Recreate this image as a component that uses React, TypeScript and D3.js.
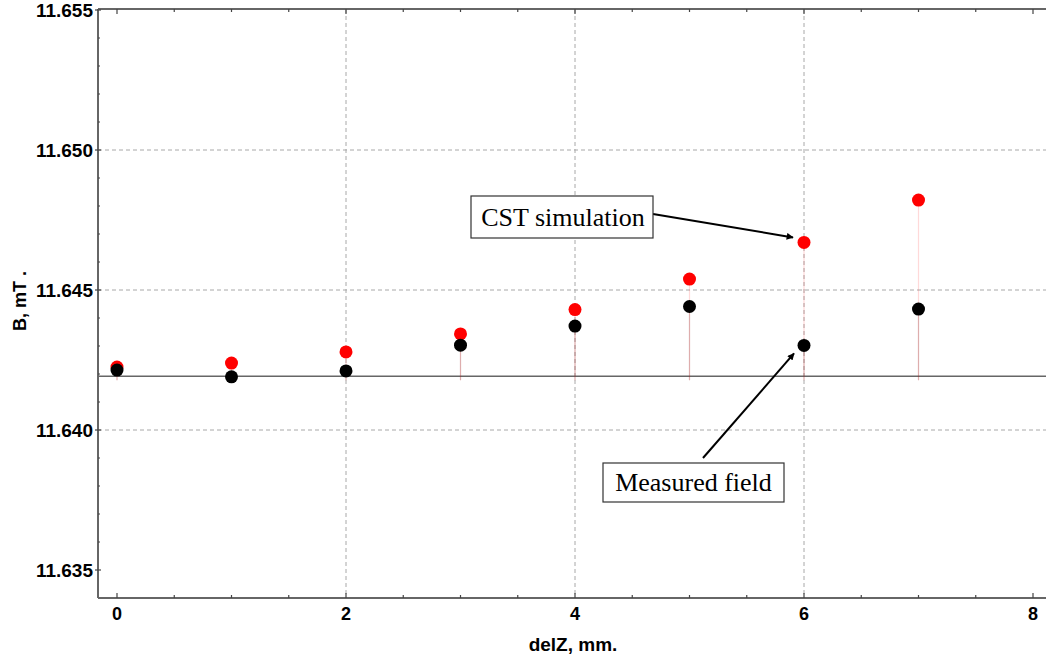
import React, { useEffect, useRef } from 'react';
import * as d3 from 'd3';

const delZ = [0, 1, 2, 3, 4, 5, 6, 7];
const cstValues = [11.64225, 11.64239, 11.64279, 11.64343, 11.64430, 11.64539, 11.64670, 11.64821];
const measuredValues = [11.64214, 11.64190, 11.64211, 11.64303, 11.64371, 11.64441, 11.64302, 11.64432];
const baseline = 11.64192;
const xTicks = [0, 2, 4, 6, 8];
const yTicks = [11.635, 11.640, 11.645, 11.650, 11.655];

const W = 1046;
const H = 659;

const App: React.FC = () => {
  const svgRef = useRef<SVGSVGElement>(null);

  useEffect(() => {
    if (!svgRef.current) return;
    const svg = d3.select(svgRef.current);
    svg.selectAll('*').remove();

    const left = 98, right = 1046, top = 9, bottom = 598;

    const x = d3.scaleLinear().domain([0, 8]).range([117, 1033]);
    const y = d3.scaleLinear().domain([11.635, 11.655]).range([570, 10]);

    const defs = svg.append('defs');
    defs.append('marker')
      .attr('id', 'arrow')
      .attr('viewBox', '0 0 10 10')
      .attr('refX', 9)
      .attr('refY', 5)
      .attr('markerWidth', 8)
      .attr('markerHeight', 7)
      .attr('markerUnits', 'userSpaceOnUse')
      .attr('orient', 'auto')
      .append('path')
      .attr('d', 'M0,0 L10,5 L0,10 z')
      .attr('fill', '#000');

    defs.append('clipPath').attr('id', 'plot')
      .append('rect')
      .attr('x', left).attr('y', top)
      .attr('width', right - left).attr('height', bottom - top);

    // grid
    const grid = svg.append('g').attr('stroke', '#a8a8a8').attr('stroke-dasharray', '4,3').attr('stroke-width', 1);
    grid.selectAll('line.v')
      .data(xTicks.filter(d => d > 0 && d < 8))
      .enter().append('line')
      .attr('x1', d => x(d)).attr('x2', d => x(d))
      .attr('y1', top).attr('y2', bottom);
    grid.selectAll('line.h')
      .data(yTicks.filter(d => d > 11.635 && d < 11.655))
      .enter().append('line')
      .attr('x1', left).attr('x2', right)
      .attr('y1', d => y(d)).attr('y2', d => y(d));

    const plot = svg.append('g').attr('clip-path', 'url(#plot)');

    // baseline
    plot.append('line')
      .attr('x1', left).attr('x2', right)
      .attr('y1', y(baseline)).attr('y2', y(baseline))
      .attr('stroke', '#666').attr('stroke-width', 1.5);

    // stems
    plot.selectAll('line.cst')
      .data(delZ)
      .enter().append('line')
      .attr('x1', d => x(d)).attr('x2', d => x(d))
      .attr('y1', y(baseline) + 4).attr('y2', (d, i) => y(cstValues[i]))
      .attr('stroke', 'rgba(255,80,80,0.22)').attr('stroke-width', 1.2);
    plot.selectAll('line.meas')
      .data(delZ)
      .enter().append('line')
      .attr('x1', d => x(d)).attr('x2', d => x(d))
      .attr('y1', y(baseline) + 4).attr('y2', (d, i) => y(measuredValues[i]))
      .attr('stroke', 'rgba(90,0,0,0.2)').attr('stroke-width', 1.2);

    // points
    plot.selectAll('circle.cst')
      .data(delZ)
      .enter().append('circle')
      .attr('cx', d => x(d))
      .attr('cy', (d, i) => y(cstValues[i]))
      .attr('r', 6.5)
      .attr('fill', '#ff0000');
    plot.selectAll('circle.meas')
      .data(delZ)
      .enter().append('circle')
      .attr('cx', d => x(d))
      .attr('cy', (d, i) => y(measuredValues[i]))
      .attr('r', 6.5)
      .attr('fill', '#000');

    // frame
    const frame = svg.append('g').attr('stroke', '#666').attr('stroke-width', 2);
    frame.append('line').attr('x1', left).attr('x2', left).attr('y1', top).attr('y2', bottom);
    frame.append('line').attr('x1', left).attr('x2', right).attr('y1', bottom).attr('y2', bottom);
    frame.append('line').attr('x1', left).attr('x2', right).attr('y1', top).attr('y2', top);

    // ticks
    const ticks = svg.append('g').attr('stroke', '#444').attr('stroke-width', 1.2);
    const xMinor = d3.range(0, 8.01, 0.5);
    ticks.selectAll('line.xb')
      .data(xMinor)
      .enter().append('line')
      .attr('x1', d => x(d)).attr('x2', d => x(d))
      .attr('y1', bottom).attr('y2', d => bottom - (d % 2 === 0 ? 5 : 3));
    ticks.selectAll('line.xt')
      .data(xMinor)
      .enter().append('line')
      .attr('x1', d => x(d)).attr('x2', d => x(d))
      .attr('y1', top).attr('y2', d => top + (d % 2 === 0 ? 5 : 3));
    const yMinor = d3.range(0, 21).map(i => 11.635 + i * 0.001);
    ticks.selectAll('line.yl')
      .data(yMinor)
      .enter().append('line')
      .attr('x1', (d, i) => left - (i % 5 === 0 ? 3 : 0)).attr('x2', (d, i) => left + (i % 5 === 0 ? 3 : 2))
      .attr('y1', d => y(d)).attr('y2', d => y(d));

    const font = '"Liberation Sans", Arial, sans-serif';

    svg.append('g').selectAll('text')
      .data(xTicks)
      .enter().append('text')
      .attr('x', d => x(d))
      .attr('y', 620)
      .attr('text-anchor', 'middle')
      .attr('font-family', font).attr('font-weight', 'bold').attr('font-size', 18)
      .text(d => String(d));

    svg.append('g').selectAll('text')
      .data(yTicks)
      .enter().append('text')
      .attr('x', 93)
      .attr('y', d => y(d) + 7)
      .attr('text-anchor', 'end')
      .attr('font-family', font).attr('font-weight', 'bold').attr('font-size', 19)
      .text(d => d.toFixed(3));

    svg.append('text')
      .attr('x', 573).attr('y', 651)
      .attr('text-anchor', 'middle')
      .attr('font-family', font).attr('font-weight', 'bold').attr('font-size', 19)
      .text('delZ, mm.');

    svg.append('text')
      .attr('transform', 'translate(26,301) rotate(-90)')
      .attr('text-anchor', 'middle')
      .attr('font-family', font).attr('font-weight', 'bold').attr('font-size', 18)
      .text('B, mT .');

    // annotations
    const serif = '"Liberation Serif", "Times New Roman", serif';
    const ann = svg.append('g');
    ann.append('line')
      .attr('x1', 653).attr('y1', 214)
      .attr('x2', x(6) - 11).attr('y2', y(cstValues[6]) - 5)
      .attr('stroke', '#000').attr('stroke-width', 2)
      .attr('marker-end', 'url(#arrow)');
    ann.append('rect')
      .attr('x', 471).attr('y', 196).attr('width', 182).attr('height', 42)
      .attr('fill', '#fff').attr('stroke', '#333').attr('stroke-width', 1.2);
    ann.append('text')
      .attr('x', 563).attr('y', 226)
      .attr('text-anchor', 'middle')
      .attr('font-family', serif).attr('font-size', 26)
      .text('CST simulation');

    ann.append('line')
      .attr('x1', 703).attr('y1', 458)
      .attr('x2', x(6) - 10).attr('y2', y(measuredValues[6]) + 8)
      .attr('stroke', '#000').attr('stroke-width', 2)
      .attr('marker-end', 'url(#arrow)');
    ann.append('rect')
      .attr('x', 603).attr('y', 463).attr('width', 181).attr('height', 39)
      .attr('fill', '#fff').attr('stroke', '#333').attr('stroke-width', 1.2);
    ann.append('text')
      .attr('x', 693.5).attr('y', 491)
      .attr('text-anchor', 'middle')
      .attr('font-family', serif).attr('font-size', 26)
      .text('Measured field');
  }, []);

  return (
    <svg
      ref={svgRef}
      width={W}
      height={H}
      style={{ position: 'absolute', left: 0, top: 0, background: '#fff' }}
    />
  );
};

export default App;
